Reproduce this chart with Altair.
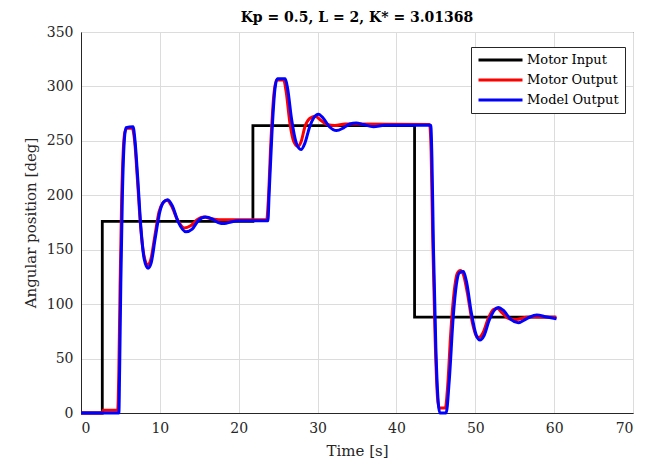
import altair as alt
import pandas as pd

# ---- data ----
input_t = [0, 2.7, 21.8, 42.3, 60.2]
input_v = [0, 176, 264, 88, 88]

motor_t = [0, 2.7, 2.8, 4.65, 4.8, 4.95, 5.15, 5.35, 5.6, 5.9, 6.5, 6.8, 7.15, 7.55, 7.95,
           8.45, 8.85, 9.35, 9.9, 10.4, 10.9, 11.5, 12.2, 13.1, 13.9, 14.8, 15.6, 16.5, 17.5,
           23.55, 23.75, 24.05, 24.45, 24.8, 25.7, 26.0, 26.5, 27.0, 27.5, 27.9, 28.4, 29.0,
           29.7, 30.4, 31.2, 32.2, 33.5, 35.0, 44.2, 44.4, 44.6, 44.9, 45.2, 45.4, 46.2, 46.5,
           46.9, 47.3, 47.7, 48.1, 48.5, 49.0, 49.6, 50.2, 50.5, 51.0, 51.6, 52.3, 52.8, 53.4,
           54.3, 55.2, 56.5, 57.5, 60.3]
motor_v = [0, 0, 2.5, 2.5, 40, 115, 195, 240, 259, 261.5, 261.5, 250, 215, 172, 146,
           136, 141, 162, 185, 193, 195.5, 190, 178, 170, 172, 178, 180, 178.5, 177.5,
           177.5, 195, 245, 292, 306, 306, 296, 266, 249, 245, 249, 263, 270.5,
           272.5, 269, 265, 264, 265.5, 265.5, 265, 240, 160, 70, 15, 4.5, 4.5, 25,
           75, 110, 128, 131, 127, 110, 84, 70, 69.5, 74, 86, 95, 96, 92,
           86.5, 86, 88, 88.5, 88]

model_t = [0, 4.8, 4.9, 5.05, 5.25, 5.45, 5.7, 6.6, 6.85, 7.2, 7.6, 8.0, 8.5, 8.9, 9.4,
           10.0, 10.5, 11.0, 11.6, 12.3, 13.3, 14.1, 14.9, 15.8, 16.7, 17.4, 18.2, 19.0, 20.0,
           23.7, 23.85, 24.2, 24.6, 24.9, 25.9, 26.2, 26.7, 27.3, 27.9, 28.4, 29.0, 29.5, 30.1,
           30.7, 31.5, 32.4, 33.3, 34.1, 34.9, 35.8, 37.1, 38.5, 44.35, 44.5, 44.7, 45.0, 45.3,
           45.5, 46.3, 46.7, 47.2, 47.6, 48.0, 48.5, 48.9, 49.5, 50.1, 50.6, 51.1, 51.8, 52.9,
           53.6, 54.5, 55.45, 56.6, 57.8, 58.9, 60.3]
model_v = [0, 0, 40, 120, 200, 245, 262, 263, 250, 215, 170, 142, 133, 138, 160,
           185, 194, 196, 190, 176, 166.5, 169, 177, 180, 178, 175, 174, 175.5, 176.5,
           176.5, 200, 255, 298, 307, 307, 298, 270, 248, 242, 248, 263, 271, 274.5,
           271, 263, 259.5, 262, 265.5, 266.5, 265, 263, 264.3, 264.3, 235, 150, 60, 10,
           0, 0, 30, 88, 118, 129, 130, 120, 92, 72, 67, 71, 86, 97,
           94, 86, 83, 87, 90, 88.5, 86.5]

series_names = ["Motor Input", "Motor Output", "Model Output"]
series_colors = ["#000000", "#ff0000", "#0000ff"]

df_in = pd.DataFrame({"t": input_t, "v": input_v, "series": series_names[0]})
df_mo = pd.DataFrame({"t": motor_t, "v": motor_v, "series": series_names[1]})
df_md = pd.DataFrame({"t": model_t, "v": model_v, "series": series_names[2]})

FONT = "DejaVu Serif"

x_enc = alt.X("t:Q", scale=alt.Scale(domain=[0, 70], nice=False),
              axis=alt.Axis(title="Time [s]", values=list(range(0, 71, 10))))
y_enc = alt.Y("v:Q", scale=alt.Scale(domain=[0, 350], nice=False),
              axis=alt.Axis(title="Angular position [deg]", values=list(range(0, 351, 50))))
color_enc = alt.Color(
    "series:N",
    scale=alt.Scale(domain=series_names, range=series_colors),
    legend=alt.Legend(
        title=None, orient="none", legendX=390, legendY=15,
        symbolType="M-4,0H4", symbolSize=121, symbolStrokeWidth=3,
        symbolOffset=16.5,
        labelFont=FONT, labelFontSize=13, labelColor="#000000",
        strokeColor="#262626", fillColor="white", padding=6, rowPadding=6,
        cornerRadius=0, labelOffset=19.5,
    ),
)

base_in = alt.Chart(df_in).mark_line(interpolate="step-after", strokeWidth=2.8).encode(
    x=x_enc, y=y_enc, color=color_enc)
base_mo = alt.Chart(df_mo).mark_line(interpolate="monotone", strokeWidth=3).encode(
    x=x_enc, y=y_enc, color=color_enc)
base_md = alt.Chart(df_md).mark_line(interpolate="monotone", strokeWidth=3).encode(
    x=x_enc, y=y_enc, color=color_enc)

chart = alt.layer(base_in, base_mo, base_md).properties(
    width=552, height=381,
    autosize=alt.AutoSizeParams(type="none"),
    padding={"left": 73, "top": 24, "right": 13, "bottom": 52},
    title=alt.TitleParams("Kp = 0.5, L = 2, K* = 3.01368", font=FONT, fontSize=14,
                          fontWeight="bold", color="#000000", anchor="middle", offset=0),
).configure_view(stroke="#262626", strokeWidth=1).configure_axis(
    labelFont=FONT, labelFontSize=14, labelColor="#262626",
    titleFont=FONT, titleFontSize=15, titleFontWeight="normal", titleColor="#262626",
    gridColor="#dcdcdc", gridWidth=1, domainColor="#262626", ticks=False,
    labelPadding=8,
).configure_axisX(titlePadding=8).configure_axisY(titlePadding=8)

chart.save("out.html", embed_options={"renderer": "svg", "actions": False})
